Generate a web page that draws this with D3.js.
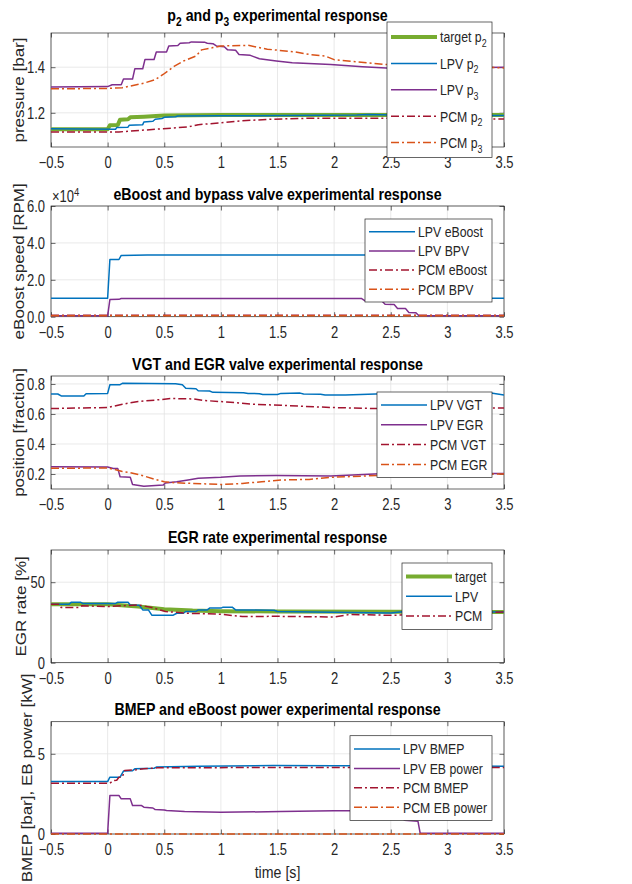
<!DOCTYPE html>
<html>
<head>
<meta charset="utf-8">
<script src="https://cdn.jsdelivr.net/npm/d3@7"></script>
<style>
  body { margin: 0; background: #fff; }
  text { font-family: "Liberation Sans", Arial, Helvetica, sans-serif; fill: #262626; }
</style>
</head>
<body>
<svg id="fig" width="632" height="884"></svg>
<script>
// time axis
const xTicks = [-0.5, 0, 0.5, 1, 1.5, 2, 2.5, 3, 3.5];

// p2 / p3 pressures [bar]  ([t, value])
const targetP2 = [[-0.5,1.128],[0,1.128],[0.02,1.145],[0.09,1.147],[0.11,1.17],[0.18,1.172],[0.2,1.18],[0.32,1.183],[0.5,1.188],[1,1.19],[2,1.19],[3.5,1.19]];
const lpvP2 = [[-0.5,1.13],[0.07,1.128],[0.08,1.135],[0.18,1.137],[0.19,1.145],[0.31,1.148],[0.32,1.16],[0.4,1.163],[0.42,1.172],[0.48,1.175],[0.5,1.18],[0.6,1.183],[0.62,1.186],[1,1.187],[1.6,1.188],[2.2,1.19],[2.3,1.193],[2.5,1.19],[3,1.188],[3.5,1.188]];
const lpvP3 = [[-0.5,1.313],[0,1.315],[0.04,1.323],[0.12,1.323],[0.14,1.348],[0.22,1.348],[0.24,1.393],[0.31,1.393],[0.33,1.434],[0.41,1.434],[0.43,1.467],[0.52,1.467],[0.54,1.493],[0.62,1.495],[0.64,1.505],[0.72,1.507],[0.74,1.511],[0.86,1.509],[0.88,1.505],[0.93,1.503],[0.96,1.493],[1.03,1.49],[1.06,1.476],[1.13,1.474],[1.16,1.456],[1.26,1.452],[1.34,1.437],[1.49,1.427],[1.63,1.419],[1.97,1.412],[2.25,1.402],[2.5,1.395],[2.8,1.395],[3.1,1.398],[3.5,1.4]];
const pcmP2 = [[-0.5,1.116],[0.1,1.116],[0.2,1.12],[0.49,1.13],[0.71,1.138],[0.8,1.148],[1,1.156],[1.19,1.165],[1.46,1.172],[1.78,1.176],[2.5,1.176],[3.5,1.173]];
const pcmP3 = [[-0.5,1.305],[0,1.307],[0.13,1.31],[0.32,1.33],[0.42,1.345],[0.49,1.368],[0.59,1.405],[0.67,1.427],[0.78,1.449],[0.83,1.476],[0.93,1.486],[1,1.493],[1.24,1.496],[1.41,1.479],[1.66,1.467],[1.78,1.456],[1.92,1.449],[2,1.433],[2.44,1.412],[3,1.405],[3.5,1.397]];

// eBoost speed / bypass valve [RPM]
const lpvEboost = [[-0.5,10000],[0,10000],[0.02,31000],[0.1,31000],[0.12,33200],[0.35,33400],[2.74,33400],[2.76,10000],[3.5,10000]];
const lpvBpv = [[-0.5,500],[0,500],[0.02,9300],[0.1,9400],[0.12,9900],[2.24,9900],[2.27,8700],[2.42,8600],[2.45,6700],[2.53,6600],[2.56,4500],[2.63,4400],[2.66,2300],[2.72,2200],[2.75,500],[3.5,500]];
const pcmEboost = [[-0.5,800],[3.5,800]];
const pcmBpv = [[-0.5,500],[3.5,500]];

// VGT / EGR valve position [fraction]
const lpvVgt = [[-0.5,0.733],[-0.44,0.733],[-0.41,0.72],[-0.21,0.72],[-0.19,0.735],[0,0.737],[0.02,0.795],[0.11,0.795],[0.13,0.804],[0.6,0.802],[0.66,0.795],[0.69,0.771],[0.78,0.768],[0.8,0.755],[0.9,0.753],[0.93,0.744],[1.2,0.742],[1.24,0.737],[1.34,0.735],[1.37,0.73],[1.5,0.73],[1.53,0.737],[1.7,0.739],[1.73,0.733],[1.88,0.731],[1.92,0.726],[2.1,0.726],[2.5,0.737],[3,0.74],[3.4,0.738],[3.5,0.727]];
const lpvEgrPos = [[-0.5,0.249],[0,0.247],[0.05,0.236],[0.09,0.236],[0.11,0.182],[0.2,0.178],[0.22,0.13],[0.32,0.119],[0.49,0.126],[0.51,0.14],[0.61,0.148],[0.71,0.16],[0.8,0.171],[1,0.178],[1.17,0.187],[1.49,0.19],[1.97,0.187],[2.5,0.205],[3,0.204],[3.5,0.204]];
const pcmVgt = [[-0.5,0.636],[0,0.643],[0.13,0.665],[0.27,0.683],[0.44,0.694],[0.56,0.703],[0.76,0.7],[0.85,0.69],[1.05,0.68],[1.29,0.665],[1.53,0.658],[1.97,0.643],[2.5,0.634],[3,0.636],[3.5,0.64]];
const pcmEgrPos = [[-0.5,0.238],[0,0.24],[0.08,0.227],[0.13,0.216],[0.2,0.209],[0.32,0.187],[0.42,0.164],[0.5,0.148],[0.61,0.141],[0.76,0.137],[1,0.13],[1.19,0.137],[1.36,0.148],[1.53,0.16],[1.78,0.164],[1.97,0.178],[2.5,0.193],[3,0.197],[3.5,0.2]];

// EGR rate [%]
const targetEgr = [[-0.5,36.3],[0,36.3],[0.27,34.9],[0.5,33.2],[0.75,32.4],[1,32],[1.5,31.8],[2.5,31.7],[3.5,31.5]];
const lpvEgr = [[-0.5,36.3],[-0.34,36.3],[-0.32,37.6],[-0.24,37.6],[-0.22,36.8],[0.07,36.8],[0.09,37.6],[0.18,37.6],[0.2,35.7],[0.28,35.7],[0.31,32.8],[0.36,32.8],[0.39,29.5],[0.58,29.5],[0.61,30.7],[0.67,30.7],[0.69,31.8],[0.78,31.8],[0.8,32.8],[0.88,32.8],[0.9,33.9],[1,33.9],[1.02,34.5],[1.1,34.5],[1.13,32.8],[1.47,32.6],[1.5,31.8],[1.97,31.4],[2.5,30.9],[2.6,31.6],[3.5,31.5]];
const pcmEgr = [[-0.5,36.3],[-0.43,36.3],[-0.41,34.3],[-0.25,34.3],[-0.23,35.3],[0,34.9],[0.27,35.9],[0.39,34.3],[0.51,31.8],[0.71,30.7],[1,30.1],[1.19,28.7],[1.5,28.8],[2,28.4],[2.14,30],[2.5,29.4],[3,30.5],[3.5,31.5]];

// BMEP [bar] and eBoost power [kW]
const lpvBmep = [[-0.5,3.27],[0,3.27],[0.02,3.54],[0.11,3.54],[0.14,3.92],[0.22,3.95],[0.24,4.06],[0.41,4.1],[0.43,4.17],[0.8,4.23],[1.46,4.27],[2,4.25],[2.5,4.26],[3,4.24],[3.5,4.22]];
const lpvEbPower = [[-0.5,0.04],[0,0.04],[0.02,2.4],[0.1,2.4],[0.12,2.19],[0.2,2.19],[0.22,1.77],[0.3,1.77],[0.32,1.67],[0.4,1.62],[0.42,1.52],[0.5,1.5],[0.52,1.46],[0.68,1.4],[1,1.35],[1.53,1.4],[2,1.45],[2.5,1.45],[2.6,1.43],[2.62,0.85],[2.74,0.8],[2.76,0.04],[3.5,0.04]];
const pcmBmep = [[-0.5,3.17],[0.02,3.17],[0.05,3.33],[0.08,3.35],[0.1,3.54],[0.13,3.55],[0.15,3.96],[0.25,4],[0.32,4.06],[0.44,4.13],[0.8,4.13],[1.5,4.15],[2.5,4.15],[3.5,4.14]];
const pcmEbPower = [[-0.5,0],[3.5,0]];

const blue = "#0072BD", purple = "#7E2F8E", green = "#77AC30", red = "#A2142F", orange = "#D95319";
const dashDot = "8,3,2,3";

const svg = d3.select("#fig");
const left = 51, right = 504;
const x = d3.scaleLinear().domain([-0.5, 3.5]).range([left, right]);

// the figure text is stretched vertically
const sy = 1.2;
const tickFs = 13, labFs = 14.2, titleFs = 14.2, legFs = 12.3;

// text with "_2" style subscripts
function rich(t, str, fs) {
  const parts = str.split(/_(\d)/);
  let down = false;
  parts.forEach((p, i) => {
    if (i % 2) {
      t.append("tspan").attr("dy", fs * 0.32).attr("font-size", fs * 0.72).text(p);
      down = true;
    } else if (p) {
      t.append("tspan").attr("dy", down ? -fs * 0.32 : 0).text(p);
      down = false;
    }
  });
}

function stext(parent, px, py, fs) {
  return parent.append("text").attr("transform", `translate(${px},${py}) scale(1,${sy})`).attr("font-size", fs);
}

const panels = [
  { top: 33, bottom: 147, domain: [1.05, 1.55], ticks: [1.2, 1.4], fmt: d3.format(".1f"),
    ylabel: "pressure [bar]", labX: 24, title: "p_2 and p_3 experimental response", titleY: 21,
    leg: { x0: 387, y0: 22, rowH: 26.4, pad: 15 },
    series: [
      { name: "target p_2", data: targetP2, color: green, w: 4 },
      { name: "LPV p_2", data: lpvP2, color: blue, w: 1.5 },
      { name: "LPV p_3", data: lpvP3, color: purple, w: 1.5 },
      { name: "PCM p_2", data: pcmP2, color: red, w: 1.5, dash: dashDot },
      { name: "PCM p_3", data: pcmP3, color: orange, w: 1.5, dash: dashDot }
    ] },
  { top: 206, bottom: 316.7, domain: [0, 60000], ticks: [0, 20000, 40000, 60000], fmt: v => d3.format(".1f")(v / 1e4),
    ylabel: "eBoost speed [RPM]", labX: 23.5, title: "eBoost and bypass valve experimental response", titleY: 200,
    exp: true,
    leg: { x0: 365, y0: 219, rowH: 19.2, pad: 12.7 },
    series: [
      { name: "LPV eBoost", data: lpvEboost, color: blue, w: 1.5 },
      { name: "LPV BPV", data: lpvBpv, color: purple, w: 1.5 },
      { name: "PCM eBoost", data: pcmEboost, color: red, w: 1.5, dash: dashDot },
      { name: "PCM BPV", data: pcmBpv, color: orange, w: 1.5, dash: dashDot }
    ] },
  { top: 376, bottom: 489, domain: [0.1, 0.853], ticks: [0.2, 0.4, 0.6, 0.8], fmt: d3.format(".1f"),
    ylabel: "position [fraction]", labX: 24, title: "VGT and EGR valve experimental response", titleY: 370,
    leg: { x0: 377, y0: 392, rowH: 19.8, pad: 13 },
    series: [
      { name: "LPV VGT", data: lpvVgt, color: blue, w: 1.5 },
      { name: "LPV EGR", data: lpvEgrPos, color: purple, w: 1.5 },
      { name: "PCM VGT", data: pcmVgt, color: red, w: 1.5, dash: dashDot },
      { name: "PCM EGR", data: pcmEgrPos, color: orange, w: 1.5, dash: dashDot }
    ] },
  { top: 550, bottom: 662.7, domain: [0, 70], ticks: [0, 50], fmt: d3.format("d"),
    ylabel: "EGR rate [%]", labX: 25.5, title: "EGR rate experimental response", titleY: 543,
    leg: { x0: 402, y0: 563, rowH: 19.7, pad: 13.5 },
    series: [
      { name: "target", data: targetEgr, color: green, w: 4 },
      { name: "LPV", data: lpvEgr, color: blue, w: 1.5 },
      { name: "PCM", data: pcmEgr, color: red, w: 1.5, dash: dashDot }
    ] },
  { top: 721.7, bottom: 834, domain: [0, 7], ticks: [0, 5], fmt: d3.format("d"),
    ylabel: "BMEP [bar], EB power [kW]", labX: 31.5, title: "BMEP and eBoost power experimental response", titleY: 715,
    leg: { x0: 350, y0: 735.7, rowH: 19.4, pad: 13.3 },
    series: [
      { name: "LPV BMEP", data: lpvBmep, color: blue, w: 1.5 },
      { name: "LPV EB power", data: lpvEbPower, color: purple, w: 1.5 },
      { name: "PCM BMEP", data: pcmBmep, color: red, w: 1.5, dash: dashDot },
      { name: "PCM EB power", data: pcmEbPower, color: orange, w: 1.5, dash: dashDot }
    ] }
];

const legRight = 492;
const tickLen = 4.5;

panels.forEach((p, pi) => {
  const y = d3.scaleLinear().domain(p.domain).range([p.bottom, p.top]);
  const g = svg.append("g");

  // grid
  g.append("g").selectAll("line").data(xTicks).join("line")
    .attr("x1", d => x(d)).attr("x2", d => x(d)).attr("y1", p.top).attr("y2", p.bottom)
    .attr("stroke", "#e3e3e3").attr("stroke-width", 0.8);
  g.append("g").selectAll("line").data(p.ticks).join("line")
    .attr("x1", left).attr("x2", right).attr("y1", d => y(d)).attr("y2", d => y(d))
    .attr("stroke", "#e3e3e3").attr("stroke-width", 0.8);

  // axes box with inward ticks on all sides (under the data)
  g.append("rect").attr("x", left).attr("y", p.top).attr("width", right - left).attr("height", p.bottom - p.top)
    .attr("fill", "none").attr("stroke", "#262626").attr("stroke-width", 0.7);
  const axB = d3.axisBottom(x).tickValues(xTicks).tickSizeInner(-tickLen).tickSizeOuter(0).tickFormat(d3.format(""));
  const axT = d3.axisTop(x).tickValues(xTicks).tickSizeInner(-tickLen).tickSizeOuter(0).tickFormat("");
  const axL = d3.axisLeft(y).tickValues(p.ticks).tickSizeInner(-tickLen).tickSizeOuter(0).tickPadding(6).tickFormat(p.fmt);
  const axR = d3.axisRight(y).tickValues(p.ticks).tickSizeInner(-tickLen).tickSizeOuter(0).tickFormat("");
  const gB = g.append("g").attr("transform", `translate(0,${p.bottom})`).call(axB);
  const gT = g.append("g").attr("transform", `translate(0,${p.top})`).call(axT);
  const gL = g.append("g").attr("transform", `translate(${left},0)`).call(axL);
  const gR = g.append("g").attr("transform", `translate(${right},0)`).call(axR);
  [gB, gT, gL, gR].forEach(a => {
    a.select(".domain").remove();
    a.selectAll("line").attr("stroke", "#262626").attr("stroke-width", 0.7);
    a.selectAll("text").attr("font-size", tickFs).attr("font-family", null).attr("fill", "#262626");
  });
  gB.selectAll("text").attr("y", 21 / sy).attr("dy", 0).attr("transform", `scale(1,${sy})`);
  gL.selectAll("text").attr("dy", "0.36em").attr("transform", `scale(1,${sy})`);

  // data lines (clip a little outside the box so edge lines keep their width)
  const clipId = "clip" + pi;
  svg.append("clipPath").attr("id", clipId).append("rect")
    .attr("x", left).attr("y", p.top - 2).attr("width", right - left).attr("height", p.bottom - p.top + 4);
  const line = d3.line().x(d => x(d[0])).y(d => y(d[1]));
  g.append("g").attr("clip-path", `url(#${clipId})`)
    .selectAll("path").data(p.series).join("path")
    .attr("d", s => line(s.data))
    .attr("fill", "none")
    .attr("stroke", s => s.color)
    .attr("stroke-width", s => s.w)
    .attr("stroke-dasharray", s => s.dash || null)
    .attr("stroke-linejoin", "round");

  // y label
  g.append("text")
    .attr("transform", `translate(${p.labX},${(p.top + p.bottom) / 2}) rotate(-90) scale(${sy},1)`)
    .attr("text-anchor", "middle").attr("font-size", labFs)
    .text(p.ylabel);

  // exponent label
  if (p.exp) {
    const e = stext(g, 52, p.top - 4, tickFs);
    e.append("tspan").text("\u00d710");
    e.append("tspan").attr("dy", -5).attr("font-size", 9.5).text("4");
  }

  // title
  const t = stext(g, (left + right) / 2, p.titleY, titleFs)
    .attr("text-anchor", "middle").attr("font-weight", "bold").style("fill", "#000");
  rich(t, p.title, titleFs);

  // legend
  const L = p.leg, n = p.series.length;
  const lh = 2 * L.pad + (n - 1) * L.rowH;
  const lg = g.append("g");
  lg.append("rect").attr("x", L.x0).attr("y", L.y0).attr("width", legRight - L.x0).attr("height", lh)
    .attr("fill", "#fff").attr("stroke", "#262626").attr("stroke-width", 0.7);
  p.series.forEach((s, i) => {
    const ry = L.y0 + L.pad + i * L.rowH;
    lg.append("line").attr("x1", L.x0 + 4).attr("x2", L.x0 + 50).attr("y1", ry).attr("y2", ry)
      .attr("stroke", s.color).attr("stroke-width", s.w).attr("stroke-dasharray", s.dash || null);
    const tx = stext(lg, L.x0 + 53, ry + legFs * 0.36 * sy, legFs);
    rich(tx, s.name, legFs);
  });
});

// x label
stext(svg, (left + right) / 2, 878, 14.2).attr("text-anchor", "middle").text("time [s]");
</script>
</body>
</html>
